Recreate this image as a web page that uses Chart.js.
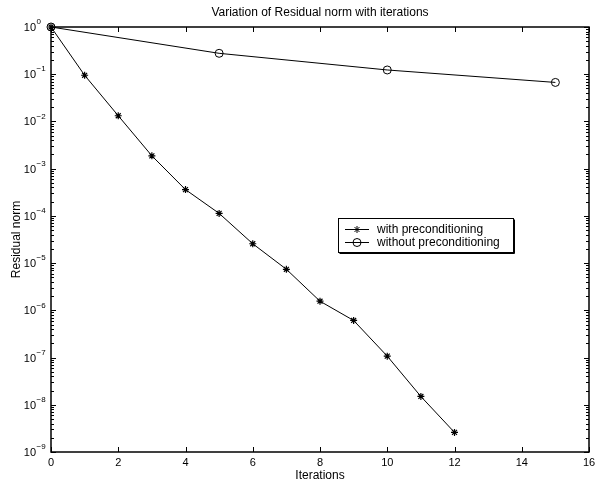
<!DOCTYPE html>
<html>
<head>
<meta charset="utf-8">
<script src="https://cdn.jsdelivr.net/npm/chart.js@4/dist/chart.umd.min.js"></script>
<style>
  html, body { margin: 0; padding: 0; background: #fff; }
  #chart { display: block; }
</style>
</head>
<body>
<canvas id="chart" width="595" height="479"></canvas>
<script>
const itersWith = [0, 1, 2, 3, 4, 5, 6, 7, 8, 9, 10, 11, 12];
const residWith = [1, 0.095, 0.0132, 0.00187, 3.6e-4, 1.13e-4, 2.57e-5, 7.4e-6, 1.56e-6, 6.1e-7, 1.07e-7, 1.5e-8, 2.6e-9];
const itersWithout = [0, 5, 10, 15];
const residWithout = [1, 0.277, 0.123, 0.067];
const xTicks = [0, 2, 4, 6, 8, 10, 12, 14, 16];
const yExponents = [0, -1, -2, -3, -4, -5, -6, -7, -8, -9];

const chartTitle = 'Variation of Residual norm with iterations';
const xTitle = 'Iterations';
const yTitle = 'Residual norm';

const FONT = '"Liberation Sans", Arial, Helvetica, sans-serif';

// matlab-ish frame, inward ticks, labels and legend
const matlabAxes = {
  id: 'matlabAxes',
  beforeDatasetsDraw(chart) {
    const { ctx, chartArea: a, scales } = chart;
    const x = scales.x, y = scales.y;
    ctx.save();
    ctx.strokeStyle = '#000';
    ctx.lineWidth = 1;
    ctx.beginPath();
    xTicks.forEach(t => {
      const px = Math.round(x.getPixelForValue(t)) + 0.5;
      ctx.moveTo(px, a.bottom); ctx.lineTo(px, a.bottom - 5);
      ctx.moveTo(px, a.top); ctx.lineTo(px, a.top + 5);
    });
    yExponents.forEach(e => {
      const py = Math.round(y.getPixelForValue(Math.pow(10, e))) + 0.5;
      ctx.moveTo(a.left, py); ctx.lineTo(a.left + 5, py);
      ctx.moveTo(a.right, py); ctx.lineTo(a.right - 5, py);
    });
    // minor ticks
    for (let e = -9; e < 0; e++) {
      for (let m = 2; m <= 9; m++) {
        const py = Math.round(y.getPixelForValue(m * Math.pow(10, e))) + 0.5;
        ctx.moveTo(a.left, py); ctx.lineTo(a.left + 3, py);
        ctx.moveTo(a.right, py); ctx.lineTo(a.right - 3, py);
      }
    }
    ctx.stroke();
    ctx.lineWidth = 1.5;
    ctx.strokeRect(a.left, a.top, a.right - a.left, a.bottom - a.top);
    ctx.restore();
  },
  afterDraw(chart) {
    const { ctx, chartArea: a, scales } = chart;
    const x = scales.x, y = scales.y;
    ctx.save();
    ctx.fillStyle = '#000';

    // x tick labels
    ctx.font = '11px ' + FONT;
    ctx.textAlign = 'center';
    ctx.textBaseline = 'middle';
    xTicks.forEach(t => ctx.fillText(String(t), x.getPixelForValue(t), a.bottom + 11));

    // y tick labels 10^e
    yExponents.forEach(e => {
      const py = y.getPixelForValue(Math.pow(10, e));
      ctx.font = '11px ' + FONT;
      ctx.textAlign = 'right';
      ctx.textBaseline = 'middle';
      ctx.fillText('10', a.left - 15, py + 1);
      ctx.font = '8px ' + FONT;
      ctx.textAlign = 'left';
      ctx.fillText(e === 0 ? '0' : '\u2212' + (-e), a.left - 14.5, py - 5);
    });

    // titles
    const cx = (a.left + a.right) / 2;
    ctx.font = '12px ' + FONT;
    ctx.textAlign = 'center';
    ctx.textBaseline = 'middle';
    ctx.fillText(chartTitle, cx, 13);
    ctx.fillText(xTitle, cx, a.bottom + 24);
    ctx.save();
    ctx.translate(17, (a.top + a.bottom) / 2);
    ctx.rotate(-Math.PI / 2);
    ctx.fillText(yTitle, 0, 0);
    ctx.restore();

    // legend box inside the axes
    const lx = 338, ly = 218, lw = 175, lh = 34;
    ctx.fillStyle = '#fff';
    ctx.fillRect(lx, ly, lw, lh);
    ctx.strokeStyle = '#000';
    ctx.lineWidth = 1;
    ctx.strokeRect(lx + 0.5, ly + 0.5, lw, lh);
    ctx.beginPath();
    ctx.moveTo(lx + 1.5, ly + lh + 1.5); ctx.lineTo(lx + lw + 1.5, ly + lh + 1.5); ctx.lineTo(lx + lw + 1.5, ly + 1.5);
    ctx.stroke();
    chart.data.datasets.forEach((ds, i) => {
      const ry = ly + 11 + i * 13;
      ctx.strokeStyle = '#000';
      ctx.lineWidth = 1;
      ctx.beginPath();
      ctx.moveTo(lx + 7, ry + 0.5); ctx.lineTo(lx + 31, ry + 0.5);
      ctx.stroke();
      ctx.fillStyle = ds.pointBackgroundColor;
      Chart.helpers.drawPoint(ctx, {
        pointStyle: ds.pointStyle, radius: ds.pointRadius, rotation: 0, borderWidth: ds.pointBorderWidth
      }, lx + 19, ry + 0.5);
      ctx.fillStyle = '#000';
      ctx.font = '12px ' + FONT;
      ctx.textAlign = 'left';
      ctx.textBaseline = 'middle';
      ctx.fillText(ds.label, lx + 39, ry + 1);
    });
    ctx.restore();
  }
};

new Chart(document.getElementById('chart'), {
  type: 'line',
  data: {
    datasets: [{
      label: 'with preconditioning',
      data: itersWith.map((v, i) => ({ x: v, y: residWith[i] })),
      borderColor: '#000',
      backgroundColor: '#000',
      borderWidth: 1,
      pointStyle: 'star',
      pointRadius: 3.5,
      pointBorderWidth: 1.2,
      pointBorderColor: '#000',
      pointBackgroundColor: '#000',
      clip: false
    }, {
      label: 'without preconditioning',
      data: itersWithout.map((v, i) => ({ x: v, y: residWithout[i] })),
      borderColor: '#000',
      backgroundColor: 'rgba(0,0,0,0)',
      borderWidth: 1,
      pointStyle: 'circle',
      pointRadius: 4,
      pointBorderWidth: 1,
      pointBorderColor: '#000',
      pointBackgroundColor: 'rgba(0,0,0,0)',
      clip: false
    }]
  },
  options: {
    responsive: false,
    animation: false,
    devicePixelRatio: 1,
    layout: { padding: { left: 51, right: 6, top: 27, bottom: 27 } },
    scales: {
      x: { type: 'linear', min: 0, max: 16, display: false },
      y: { type: 'logarithmic', min: 1e-9, max: 1, display: false }
    },
    plugins: {
      legend: { display: false },
      title: { display: false },
      tooltip: { enabled: false }
    }
  },
  plugins: [matlabAxes]
});
</script>
</body>
</html>
